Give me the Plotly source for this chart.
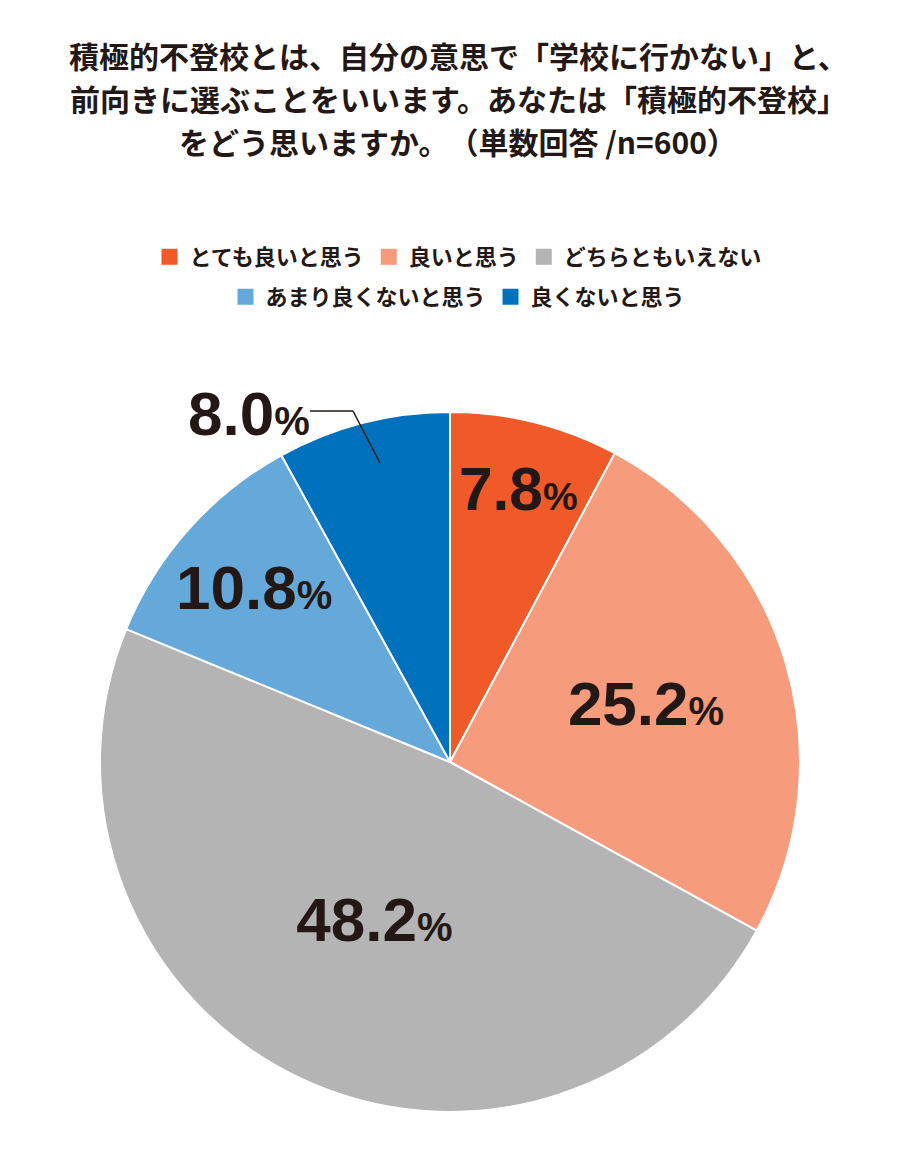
import plotly.graph_objects as go

labels = ["とても良いと思う", "良いと思う", "どちらともいえない", "あまり良くないと思う", "良くないと思う"]
values = [7.8, 25.2, 48.2, 10.8, 8.0]
colors = ["#f05a28", "#f69c7d", "#b4b4b4", "#64a9d9", "#0071bc"]
legend_rows = ["legend", "legend", "legend", "legend2", "legend2"]
title_lines = ["積極的不登校とは、自分の意思で「学校に行かない」と、",
               "前向きに選ぶことをいいます。あなたは「積極的不登校」",
               "をどう思いますか。　（単数回答 /n=600）"]

NUMFONT = "Liberation Sans, Arial, sans-serif"
texts = [f"{v:.1f}<span style='font-size:40px'>%</span>" if i < 4 else "" for i, v in enumerate(values)]

fig = go.Figure(go.Pie(
    labels=labels, values=values, sort=False, direction="clockwise", rotation=0,
    marker=dict(colors=colors, line=dict(color="white", width=2)),
    text=texts, texttemplate="<b>%{text}</b>", textposition="inside",
    insidetextorientation="horizontal",
    textfont=dict(size=62, color="#231815", family=NUMFONT),
    domain=dict(x=[92/900, 792/900], y=[56/1160, 756/1160]),
    hoverinfo="skip", showlegend=False,
))

for lab, col, lg in zip(labels, colors, legend_rows):
    fig.add_trace(go.Scatter(x=[None], y=[None], mode="markers", name=f"<b>{lab}</b>", legend=lg,
                             marker=dict(symbol="square", size=18, color=col)))

for i, line in enumerate(title_lines):
    fig.add_annotation(x=0.5, y=1-(47+43*i)/1160, xref="paper", yref="paper", showarrow=False,
                       yanchor="middle", text=f"<b>{line}</b>", font=dict(size=30, color="#231815"))

fig.add_annotation(x=178/900, y=1-405/1160, xref="paper", yref="paper",
                   text=f"<b>{values[4]:.1f}<span style='font-size:40px'>%</span></b>",
                   showarrow=False, font=dict(size=62, color="#231815", family=NUMFONT))
fig.add_shape(type="line", xref="paper", yref="paper",
              x0=302/900, y0=1-403/1160, x1=345/900, y1=1-403/1160, line=dict(color="#231815", width=1.5))
fig.add_shape(type="line", xref="paper", yref="paper",
              x0=345/900, y0=1-403/1160, x1=372/900, y1=1-455/1160, line=dict(color="#231815", width=1.5))

fig.update_xaxes(visible=False)
fig.update_yaxes(visible=False)
fig.update_layout(
    width=900, height=1160, margin=dict(l=0, r=0, t=0, b=0),
    paper_bgcolor="white", plot_bgcolor="white",
    font=dict(family="Noto Sans CJK JP", color="#231815"),
    legend=dict(orientation="h", x=0.5, xanchor="center", y=1-228/1160, yanchor="top",
                font=dict(size=22, color="#231815"), itemwidth=30),
    legend2=dict(orientation="h", x=0.5, xanchor="center", y=1-268/1160, yanchor="top",
                 font=dict(size=22, color="#231815"), itemwidth=30),
)
fig.write_html("out.html")
